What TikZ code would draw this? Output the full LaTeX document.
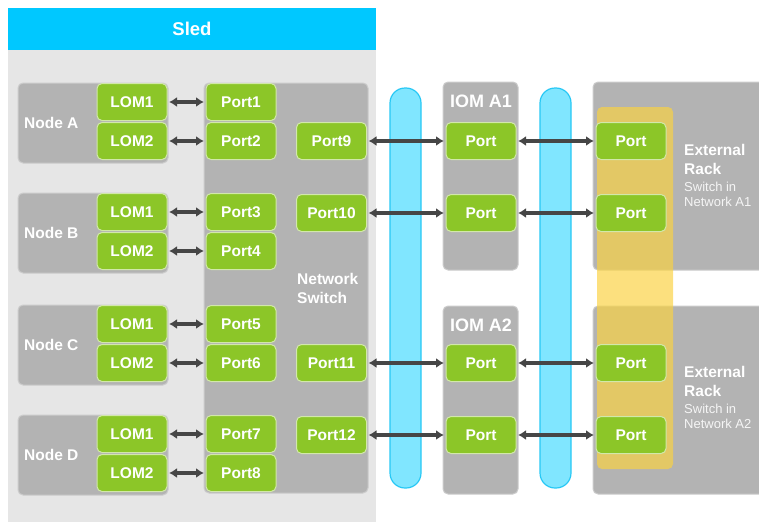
\documentclass[tikz,border=0pt]{standalone}
\usepackage{fontspec}
\setmainfont{Liberation Sans}
\usetikzlibrary{arrows.meta, positioning, calc}

\definecolor{sledblue}{RGB}{0,200,255}
\definecolor{sledbody}{RGB}{230,230,230}
\definecolor{boxgray}{RGB}{179,179,179}
\definecolor{boxedge}{RGB}{204,204,204}
\definecolor{portgreen}{RGB}{140,198,40}
\definecolor{portedge}{RGB}{210,232,170}
\definecolor{pillblue}{RGB}{128,230,255}
\definecolor{pilledge}{RGB}{40,200,245}
\definecolor{rackyellow}{RGB}{250,210,65}
\definecolor{linkgray}{RGB}{70,70,70}

\begin{document}
\begin{tikzpicture}[
    x=1pt, y=-1pt,
    font=\bfseries,
    >= {Latex[length=8pt, width=10pt]},
    portbox/.style={draw=portedge, fill=portgreen, line width=1pt, rounded corners=5pt,
        minimum width=70pt, minimum height=37pt, inner sep=0pt, text=white,
        font=\fontsize{15.5}{18}\selectfont\bfseries},
    graybox/.style={draw=boxedge, fill=boxgray, line width=1pt, rounded corners=5pt},
    pill/.style={draw=pilledge, fill=pillblue, line width=1.2pt, rounded corners=15pt},
    link/.style={<->, draw=linkgray, line width=3.2pt, shorten >=1.5pt, shorten <=1.5pt},
    boxlabel/.style={text=white, inner sep=0pt, font=\fontsize{15.5}{19}\selectfont\bfseries},
    ]

    \useasboundingbox (0,0) rectangle (759,522);

    % ==========================================
    % Sled background
    % ==========================================
    \fill[sledbody] (8,50) rectangle (376,522);
    \fill[sledblue] (8,8) rectangle (376,50);
    \node[text=white, font=\fontsize{18.5}{22}\selectfont\bfseries] (sled) at (192,29) {Sled};

    % ==========================================
    % Gray containers
    % ==========================================
    \foreach \nd/\ytop in {A/83, B/193, C/305, D/415}
    {
        \draw[graybox] (18,\ytop) rectangle (168,\ytop+80);
        \node[boxlabel, anchor=west] (node\nd) at (24,\ytop+40) {Node \nd};
    }
    \draw[graybox] (204,83) rectangle (368,493);
    \node[boxlabel, anchor=north west, align=left] (switch) at (297,273) {Network\\Switch};

    % Midplane links
    \draw[pill] (390,88) rectangle (421,488);
    \draw[pill] (540,88) rectangle (571,488);

    % IOM modules and external racks
    \foreach \io/\ytop in {A1/82, A2/306}
    {
        \draw[graybox] (443,\ytop) rectangle (518,\ytop+188);
        \node[text=white, inner sep=0pt, font=\fontsize{18}{22}\selectfont\bfseries] (iom\io) at (481,\ytop+19) {IOM \io};
        \draw[graybox] (593,\ytop) rectangle (775,\ytop+188);
    }
    \fill[rackyellow, opacity=0.68, rounded corners=5pt] (597,107) rectangle (673,469);

    % ==========================================
    % Ports
    % ==========================================
    \foreach \nd/\ytop [count=\i] in {A/83, B/193, C/305, D/415}
    {
        \pgfmathtruncatemacro{\pa}{2*\i-1}
        \pgfmathtruncatemacro{\pb}{2*\i}
        \node[portbox] (lom\nd1) at (132,\ytop+19) {LOM1};
        \node[portbox] (lom\nd2) at (132,\ytop+58) {LOM2};
        \node[portbox] (port\pa) at (241,\ytop+19) {Port\pa};
        \node[portbox] (port\pb) at (241,\ytop+58) {Port\pb};
        \draw[link] (lom\nd1.east) -- (port\pa.west);
        \draw[link] (lom\nd2.east) -- (port\pb.west);
    }

    \foreach \p/\y/\io in {9/141/A1, 10/213/A1, 11/363/A2, 12/435/A2}
    {
        \node[portbox] (port\p) at (331.5,\y) {Port\p};
        \node[portbox] (iomport\p) at (481,\y) {Port};
        \node[portbox] (extport\p) at (631,\y) {Port};
        \draw[link] (port\p.east) -- (iomport\p.west);
        \draw[link] (iomport\p.east) -- (extport\p.west);
    }

    % ==========================================
    % External rack labels
    % ==========================================
    \foreach \io/\y in {A1/159, A2/381}
    {
        \node[boxlabel, anchor=west, align=left] (rack\io) at (684,\y) {External\\Rack};
        \node[text=white!92!gray, inner sep=0pt, anchor=north west, align=left,
              font=\fontsize{13}{15}\selectfont] (rack\io sub) at ([yshift=-7pt]rack\io.south west) {Switch in\\Network \io};
    }

\end{tikzpicture}
\end{document}
